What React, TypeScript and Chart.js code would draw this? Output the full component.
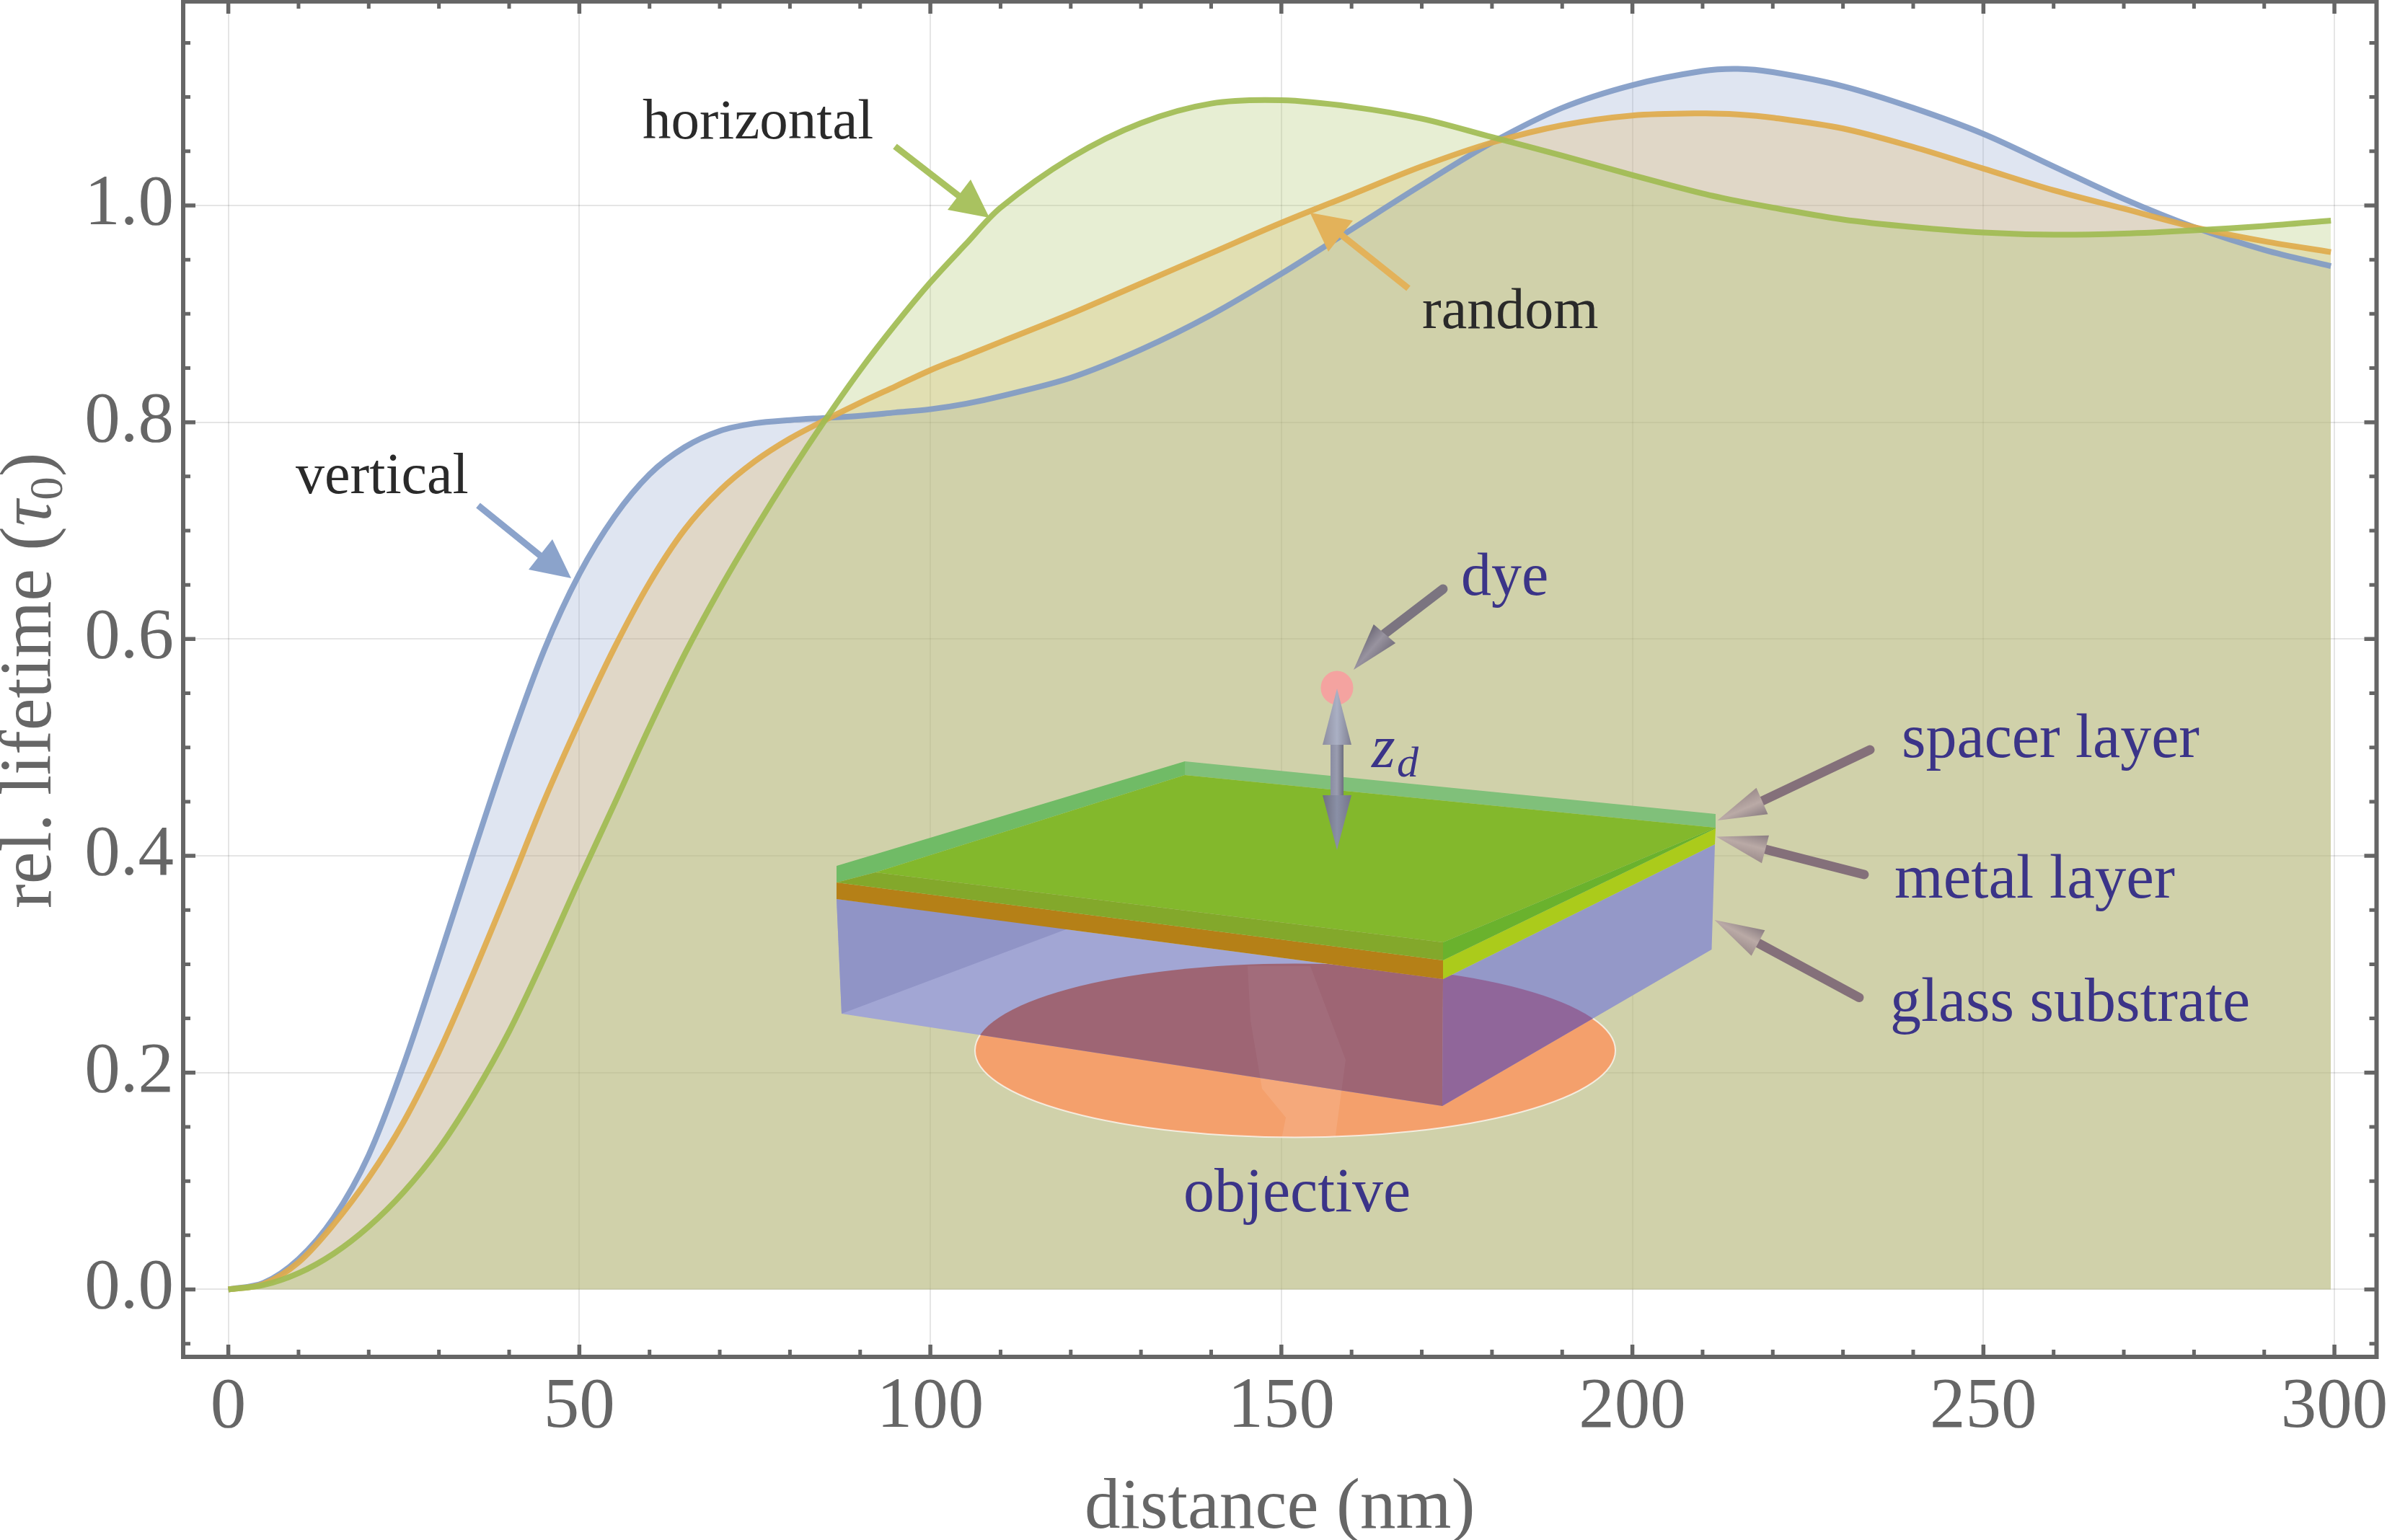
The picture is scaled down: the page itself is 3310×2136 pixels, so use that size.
import { useEffect, useRef } from 'react';
import { Chart } from 'chart.js/auto';

const distance = [0, 5, 10, 15, 20, 25, 30, 35, 40, 45, 50, 55, 60, 65, 70, 75, 80, 85, 90, 95, 100, 105, 110, 120, 130, 140, 150, 160, 170, 180, 190, 200, 210, 215, 220, 230, 240, 250, 260, 270, 280, 290, 299.5];
const vertical = [0, .006, .028, .066, .124, .208, .305, .405, .502, .59, .66, .713, .752, .777, .792, .799, .802, .804, .806, .809, .812, .817, .824, .841, .867, .899, .937, .978, 1.019, 1.058, 1.09, 1.111, 1.124, 1.126, 1.123, 1.11, 1.09, 1.066, 1.036, 1.006, .98, .959, .944];
const random = [0, .005, .025, .06, .103, .155, .219, .293, .371, .451, .524, .592, .652, .701, .737, .764, .785, .802, .818, .833, .848, .861, .874, .9, .928, .956, .984, 1.01, 1.036, 1.058, 1.074, 1.083, 1.085, 1.084, 1.081, 1.071, 1.054, 1.034, 1.014, .997, .98, .967, .957];
const horizontal = [0, .004, .015, .033, .058, .09, .13, .18, .238, .306, .378, .448, .519, .586, .646, .701, .753, .802, .848, .89, .929, .964, .998, 1.044, 1.076, 1.094, 1.097, 1.091, 1.08, 1.063, 1.046, 1.028, 1.011, 1.004, .998, .987, .98, .975, .973, .974, .977, .981, .986];

const xMajor = [0, 50, 100, 150, 200, 250, 300];
const xMinor = [10, 20, 30, 40, 60, 70, 80, 90, 110, 120, 130, 140, 160, 170, 180, 190, 210, 220, 230, 240, 260, 270, 280, 290];
const yMajor = [0, 0.2, 0.4, 0.6, 0.8, 1];
const yMinor = [-0.05, 0.05, 0.1, 0.15, 0.25, 0.3, 0.35, 0.45, 0.5, 0.55, 0.65, 0.7, 0.75, 0.85, 0.9, 0.95, 1.05, 1.1, 1.15];

const SERIF = '"Liberation Serif", serif';
const GRAY = '#666666';
const INK = '#2a2a2a';
const INDIGO = '#3b3488';
const BLUE = 'rgb(139,163,203)';
const ORANGE = 'rgb(227,178,90)';
const GREEN = 'rgb(169,194,96)';

type Pt = [number, number];

function poly(ctx: CanvasRenderingContext2D, pts: Pt[], fill?: string) {
  ctx.beginPath();
  pts.forEach((p, i) => (i ? ctx.lineTo(p[0], p[1]) : ctx.moveTo(p[0], p[1])));
  ctx.closePath();
  if (fill) { ctx.fillStyle = fill; ctx.fill(); }
}

function text(ctx: CanvasRenderingContext2D, s: string, x: number, y: number, size: number, color: string, italic = false) {
  ctx.font = `${italic ? 'italic ' : ''}${size}px ${SERIF}`;
  ctx.fillStyle = color;
  ctx.textAlign = 'left';
  ctx.textBaseline = 'alphabetic';
  ctx.fillText(s, x, y);
}

// flat arrows pointing at the curves
function flatArrow(ctx: CanvasRenderingContext2D, tail: Pt, neck: Pt, tip: Pt, a: Pt, b: Pt, color: string) {
  ctx.strokeStyle = color;
  ctx.lineWidth = 9;
  ctx.lineCap = 'butt';
  ctx.beginPath();
  ctx.moveTo(tail[0], tail[1]);
  ctx.lineTo(neck[0], neck[1]);
  ctx.stroke();
  poly(ctx, [tip, a, b], color);
}

// shaded 3D arrows of the inset
function cone(ctx: CanvasRenderingContext2D, tip: Pt, base: Pt, half: number, c1: string, c2: string, c3: string) {
  const dx = tip[0] - base[0], dy = tip[1] - base[1];
  const len = Math.hypot(dx, dy);
  const nx = -dy / len * half, ny = dx / len * half;
  const g = ctx.createLinearGradient(base[0] + nx, base[1] + ny, base[0] - nx, base[1] - ny);
  g.addColorStop(0, c1);
  g.addColorStop(0.5, c2);
  g.addColorStop(1, c3);
  poly(ctx, [tip, [base[0] + nx, base[1] + ny], [base[0] - nx, base[1] - ny]]);
  ctx.fillStyle = g;
  ctx.fill();
}

function roundArrow(ctx: CanvasRenderingContext2D, tail: Pt, tip: Pt, base: Pt, shaft: string, c1: string, c2: string, c3: string) {
  ctx.strokeStyle = shaft;
  ctx.lineWidth = 13;
  ctx.lineCap = 'round';
  ctx.beginPath();
  ctx.moveTo(tail[0], tail[1]);
  ctx.lineTo(base[0], base[1]);
  ctx.stroke();
  cone(ctx, tip, base, 20, c1, c2, c3);
}

function drawInset(ctx: CanvasRenderingContext2D) {
  const ell = () => { ctx.beginPath(); ctx.ellipse(1796, 1457, 444, 120.5, 0, 0, Math.PI * 2); };
  const frontFace: Pt[] = [[1160, 1247], [2001, 1358], [2000, 1534], [1167, 1406]];
  const rightFace: Pt[] = [[2001, 1358], [2378, 1171], [2373.5, 1317], [2000, 1534]];
  const band: Pt[] = [[1730, 1340], [1817, 1340], [1866, 1470], [1850, 1590], [1775, 1590], [1783, 1550], [1750, 1510], [1734, 1415]];

  ell();
  ctx.fillStyle = '#f4a06c';
  ctx.fill();
  ctx.strokeStyle = 'rgba(255,255,255,.7)';
  ctx.lineWidth = 2;
  ctx.stroke();
  ctx.save();
  ell();
  ctx.clip();
  poly(ctx, band, 'rgba(255,255,255,.1)');
  ctx.restore();

  poly(ctx, frontFace, '#a2a6d4');
  poly(ctx, [[1160, 1247], [1481, 1288], [1167, 1406]], '#9094c6');
  poly(ctx, rightFace, '#9498c8');

  ctx.save();
  poly(ctx, frontFace);
  ctx.clip();
  ell();
  ctx.fillStyle = '#9e6574';
  ctx.fill();
  ell();
  ctx.clip();
  poly(ctx, band, 'rgba(255,255,255,.05)');
  ctx.restore();

  ctx.save();
  poly(ctx, rightFace);
  ctx.clip();
  ell();
  ctx.fillStyle = '#90669a';
  ctx.fill();
  ctx.restore();

  // metal and spacer slabs
  poly(ctx, [[1160, 1224], [2001, 1332], [2001, 1358], [1160, 1247]], '#b58017');
  poly(ctx, [[2001, 1332], [2379, 1149], [2378, 1171], [2001, 1358]], '#abcb1b');
  poly(ctx, [[1160, 1201], [1643, 1056], [1643, 1075], [1214, 1210], [1160, 1224]], '#70bb66');
  poly(ctx, [[1643, 1056], [2379, 1129], [2379, 1148], [1643, 1075]], '#80c07a');
  poly(ctx, [[1643, 1075], [2379, 1148], [2001, 1307], [1214, 1210]], '#83b82c');
  poly(ctx, [[1214, 1210], [2001, 1307], [2001, 1332], [1160, 1224]], '#83a82b');
  poly(ctx, [[2001, 1307], [2379, 1148], [2379, 1149], [2001, 1332]], '#6ab22d');

  // dye and its height arrow
  ctx.beginPath();
  ctx.ellipse(1854, 954, 22.5, 23.5, 0, 0, Math.PI * 2);
  ctx.fillStyle = '#f4a3a0';
  ctx.fill();
  const g = ctx.createLinearGradient(1845, 0, 1863, 0);
  g.addColorStop(0, '#8a8ca2');
  g.addColorStop(0.5, '#9a9db0');
  g.addColorStop(1, '#6d6e7e');
  ctx.fillStyle = g;
  ctx.fillRect(1845, 1030, 18, 75);
  cone(ctx, [1854, 955], [1854, 1033], 20, '#7f7f90', '#aab0c4', '#8d8d9f');
  cone(ctx, [1854, 1179], [1854, 1103], 20, '#6f6f7f', '#8a90a6', '#75758a');

  roundArrow(ctx, [2001, 817], [1877, 929], [1920, 879], '#7b7480', '#6e6a78', '#98939f', '#77727f');
  roundArrow(ctx, [2593, 1040], [2381.5, 1138], [2443.5, 1111], '#84707a', '#9c8c8c', '#baaaa6', '#8a7d82');
  roundArrow(ctx, [2585, 1213], [2380, 1160.5], [2448, 1178], '#84707a', '#8a7d82', '#baaaa6', '#9c8c8c');
  roundArrow(ctx, [2578, 1383.6], [2377.5, 1276], [2438, 1308], '#84707a', '#8a7d82', '#baaaa6', '#9c8c8c');

  text(ctx, 'dye', 2026, 825, 84, INDIGO);
  text(ctx, 'z', 1902, 1064, 84, INDIGO, true);
  text(ctx, 'd', 1937, 1077, 60, INDIGO, true);
  text(ctx, 'objective', 1641, 1680, 86, INDIGO);
  text(ctx, 'spacer layer', 2637, 1050, 86, INDIGO);
  text(ctx, 'metal layer', 2627, 1245, 87, INDIGO);
  text(ctx, 'glass substrate', 2621, 1416, 86, INDIGO);
}

const decorations = {
  id: 'decorations',
  afterDatasetsDraw(chart: any) {
    const { ctx, chartArea: a, scales: { x, y } } = chart;
    ctx.save();
    drawInset(ctx);

    flatArrow(ctx, [663, 701], [752, 773], [792, 802], [766, 748], [733, 790], BLUE);
    flatArrow(ctx, [1241, 203], [1330, 272], [1372, 302], [1346, 249], [1314, 291], GREEN);
    flatArrow(ctx, [1953, 400], [1859, 325], [1816.5, 295], [1876, 306], [1842, 349], ORANGE);
    text(ctx, 'vertical', 410, 684, 80, INK);
    text(ctx, 'horizontal', 891, 192, 79, INK);
    text(ctx, 'random', 1972, 455, 80, INK);

    // frame and inward ticks on all four sides
    ctx.strokeStyle = GRAY;
    ctx.lineCap = 'butt';
    ctx.lineWidth = 6;
    ctx.strokeRect(a.left, a.top, a.right - a.left, a.bottom - a.top);
    const xTicks = (vals: number[], len: number) => vals.forEach(v => {
      const px = x.getPixelForValue(v);
      ctx.beginPath();
      ctx.moveTo(px, a.bottom); ctx.lineTo(px, a.bottom - len - 3);
      ctx.moveTo(px, a.top); ctx.lineTo(px, a.top + len + 3);
      ctx.stroke();
    });
    const yTicks = (vals: number[], len: number) => vals.forEach(v => {
      const py = y.getPixelForValue(v);
      ctx.beginPath();
      ctx.moveTo(a.left, py); ctx.lineTo(a.left + len + 3, py);
      ctx.moveTo(a.right, py); ctx.lineTo(a.right - len - 3, py);
      ctx.stroke();
    });
    ctx.lineWidth = 5.5;
    xTicks(xMajor, 14);
    yTicks(yMajor, 14);
    ctx.lineWidth = 5;
    xTicks(xMinor, 7);
    yTicks(yMinor, 7);

    // y title, has an italic tau and a subscript so it is set by hand
    ctx.translate(70, 1260);
    ctx.rotate(-Math.PI / 2);
    let pos = 0;
    const part = (s: string, size: number, italic: boolean, drop: number) => {
      text(ctx, s, pos, drop, size, GRAY, italic);
      pos += ctx.measureText(s).width;
    };
    part('rel. lifetime (', 101, false, 0);
    part('τ', 101, true, 0);
    part('0', 65, false, 16);
    part(')', 101, false, 0);
    ctx.restore();
  },
};

// the tick labels may not push the plot area in
const noPadding = (s: any) => { s.paddingTop = s.paddingBottom = s.paddingLeft = s.paddingRight = 0; };

export default function App() {
  const ref = useRef<HTMLCanvasElement>(null);

  useEffect(() => {
    if (!ref.current) return;
    const series = (label: string, values: number[], line: string, fill: string) => ({
      label,
      data: distance.map((d, i) => ({ x: d, y: values[i] })),
      borderColor: line,
      backgroundColor: fill,
      borderWidth: 8,
      borderCapStyle: 'butt' as const,
      pointRadius: 0,
      tension: 0.33,
      fill: { target: { value: 0 } },
    });
    const chart = new Chart(ref.current, {
      type: 'line',
      data: {
        // last one is painted first
        datasets: [
          series('horizontal', horizontal, 'rgba(161,188,82,.92)', 'rgba(169,194,96,.28)'),
          series('random', random, 'rgba(224,171,76,.92)', 'rgba(227,178,90,.28)'),
          series('vertical', vertical, 'rgba(129,155,198,.92)', 'rgba(139,163,203,.28)'),
        ],
      },
      options: {
        animation: false,
        responsive: false,
        devicePixelRatio: 1,
        layout: { autoPadding: false, padding: { top: 2, right: 14.5, left: 0, bottom: 0 } },
        plugins: {
          legend: { display: false },
          tooltip: { enabled: false },
          filler: { drawTime: 'beforeDatasetsDraw' },
        },
        scales: {
          x: {
            type: 'linear',
            min: -6.43,
            max: 306,
            afterBuildTicks: (s: any) => { s.ticks = xMajor.map(value => ({ value })); },
            afterFit: (s: any) => { s.height = 254; noPadding(s); },
            grid: { color: 'rgba(0,0,0,.1)', lineWidth: 2, drawTicks: false },
            border: { display: false },
            ticks: { autoSkip: false, maxRotation: 0, padding: 12, color: GRAY, font: { family: SERIF, size: 99 } },
            title: { display: true, text: 'distance (nm)', color: GRAY, font: { family: SERIF, size: 99, lineHeight: 1 }, padding: { top: 0, bottom: -6 } },
          },
          y: {
            min: -0.0622,
            max: 1.1882,
            afterBuildTicks: (s: any) => { s.ticks = yMajor.map(value => ({ value })); },
            afterFit: (s: any) => { s.width = 254; noPadding(s); },
            grid: { color: 'rgba(0,0,0,.1)', lineWidth: 2, drawTicks: false },
            border: { display: false },
            ticks: { autoSkip: false, padding: 13, color: GRAY, font: { family: SERIF, size: 99 }, callback: (v: any) => Number(v).toFixed(1) },
          },
        },
      },
      plugins: [decorations],
    });
    return () => chart.destroy();
  }, []);

  return (
    <div style={{ width: 3310, height: 2136, background: '#fff' }}>
      <style>{'body{margin:0}'}</style>
      <canvas ref={ref} width={3310} height={2136} style={{ display: 'block' }} />
    </div>
  );
}
